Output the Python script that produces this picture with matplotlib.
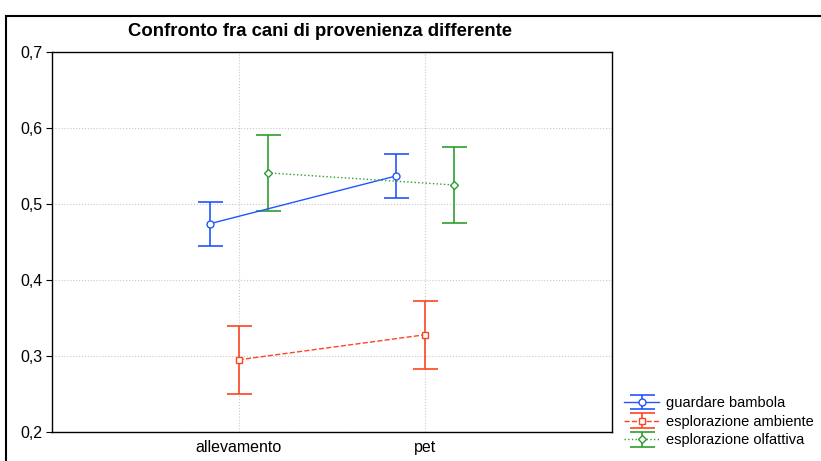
import matplotlib
matplotlib.use('Agg')
import matplotlib.pyplot as plt
from matplotlib.patches import Rectangle

plt.rcParams['font.family'] = ['Liberation Sans', 'DejaVu Sans']

categories = ['allevamento', 'pet']
series = ['guardare bambola', 'esplorazione ambiente', 'esplorazione olfattiva']
means = [
    [0.474, 0.537],
    [0.295, 0.328],
    [0.541, 0.525],
]
errors = [
    [0.029, 0.029],
    [0.045, 0.045],
    [0.050, 0.050],
]

colors = ['#2255ff', '#ff4422', '#2e9e2e']
markers = ['o', 's', 'D']
styles = ['-', '--', ':']
offsets = [-0.155, 0.0, 0.155]

fig = plt.figure(figsize=(8.21, 4.61), dpi=100)
fig.patches.append(Rectangle((6 / 821, -0.1), 1.2, 1 - 16 / 461 + 0.1,
                             transform=fig.transFigure, fill=False,
                             edgecolor='black', linewidth=1.5, clip_on=False))
ax = fig.add_axes([52 / 821, 1 - 432 / 461, (612 - 52) / 821, (432 - 52) / 461])

xs = range(1, len(categories) + 1)
for name, m, e, c, mk, ls, off in zip(series, means, errors, colors, markers, styles, offsets):
    ax.errorbar([x + off for x in xs], m, yerr=e, color=c, linestyle=ls, linewidth=1,
                marker=mk, markersize=5 if mk != 'D' else 4, markerfacecolor='white',
                markeredgecolor=c, capsize=9, elinewidth=1.2, capthick=1.2, label=name)

ax.set_xlim(0, 3)
ax.set_ylim(0.2, 0.7)
ax.set_xticks(list(xs))
ax.set_xticklabels(categories, fontsize=11.5)
yt = [0.2, 0.3, 0.4, 0.5, 0.6, 0.7]
ax.set_yticks(yt)
ax.set_yticklabels([f'{v:.1f}'.replace('.', ',') for v in yt], fontsize=11.5)
ax.tick_params(axis='x', length=0, pad=6)
ax.tick_params(axis='y', length=4, direction='out', pad=3)
ax.grid(True, linestyle=':', color='#c8c8c8', linewidth=0.8)
ax.set_axisbelow(True)
for s in ax.spines.values():
    s.set_linewidth(1)

fig.text(320 / 821, 1 - 31 / 461, 'Confronto fra cani di provenienza differente',
         ha='center', va='center', fontsize=13.3, fontweight='bold')

fig.legend(loc='upper left', bbox_to_anchor=(624 / 821, 1 - 396 / 461), frameon=False,
           fontsize=10.5, handlelength=2.4, handletextpad=0.5, labelspacing=0.32,
           borderaxespad=0, borderpad=0)

fig.savefig('out.png', dpi=100)
